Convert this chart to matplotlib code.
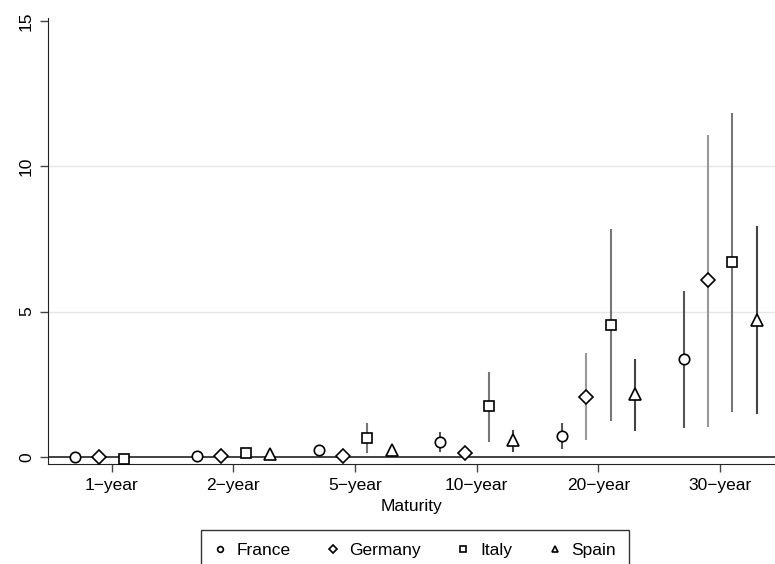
import numpy as np
import matplotlib.pyplot as plt

plt.rcParams['font.family'] = ['Liberation Sans', 'DejaVu Sans']

maturities = ["1\u2212year", "2\u2212year", "5\u2212year", "10\u2212year", "20\u2212year", "30\u2212year"]
countries = ["France", "Germany", "Italy", "Spain"]

# point estimates (nan = not shown)
france = [0.00, 0.03, 0.24, 0.52, 0.71, 3.37]
germany = [0.00, 0.03, 0.03, 0.15, 2.07, 6.07]
italy = [-0.08, 0.13, 0.66, 1.75, 4.53, 6.69]
spain = [np.nan, 0.09, 0.23, 0.58, 2.16, 4.71]

# confidence bands
france_lo = [0.00, 0.03, 0.24, 0.17, 0.27, 1.00]
france_hi = [0.00, 0.03, 0.24, 0.86, 1.17, 5.72]
germany_lo = [0.00, 0.03, 0.03, 0.10, 0.58, 1.03]
germany_hi = [0.00, 0.03, 0.03, 0.20, 3.56, 11.09]
italy_lo = [-0.08, 0.13, 0.15, 0.52, 1.23, 1.53]
italy_hi = [-0.08, 0.13, 1.15, 2.93, 7.84, 11.84]
spain_lo = [np.nan, 0.09, 0.20, 0.17, 0.90, 1.46]
spain_hi = [np.nan, 0.09, 0.26, 0.92, 3.36, 7.93]

est = [france, germany, italy, spain]
lo = [france_lo, germany_lo, italy_lo, spain_lo]
hi = [france_hi, germany_hi, italy_hi, spain_hi]
markers = ['o', 'D', 's', '^']
msizes = [7.5, 7, 7.5, 8]
ci_colors = ['#555555', '#999999', '#777777', '#444444']
offsets = [-0.3, -0.1, 0.1, 0.3]

fig = plt.figure(figsize=(7.75, 5.64), dpi=100)
ax = fig.add_axes([0.0619, 0.177, 0.938, 0.791])

x = np.arange(1, len(maturities) + 1)
for i in range(4):
    xi = x + offsets[i]
    ax.vlines(xi, lo[i], hi[i], color=ci_colors[i], lw=1.5, zorder=2)
    ax.plot(xi, est[i], linestyle='none', marker=markers[i], ms=msizes[i],
            mfc='white', mec='black', mew=1.2, zorder=3, label=countries[i])

ax.axhline(0, color='#222222', lw=1.2, zorder=1)
for yv in [5, 10]:
    ax.axhline(yv, color='#e6e6e6', lw=1, zorder=0)

ax.set_xlim(0.477, 6.45)
ax.set_ylim(-0.25, 15.1)
ax.set_xticks(x)
ax.set_xticklabels(maturities, fontsize=12.5)
ax.set_yticks([0, 5, 10, 15])
ax.set_yticklabels(['0', '5', '10', '15'], fontsize=12.5, rotation=90, va='center')
ax.tick_params(direction='out', length=6, width=1, color='#444444', pad=4)
ax.set_xlabel("Maturity", fontsize=12.5, labelpad=4)

ax.spines['top'].set_visible(False)
ax.spines['right'].set_visible(False)
ax.spines['left'].set_color('#222222')
ax.spines['bottom'].set_color('#222222')

handles, labels = ax.get_legend_handles_labels()
leg = fig.legend(handles, labels, loc='lower center', ncol=4, fontsize=12.5,
                 bbox_to_anchor=(0.535, -0.012), frameon=True, fancybox=False,
                 markerscale=0.55, handlelength=0.7, handletextpad=0.6,
                 columnspacing=2.1, borderpad=0.75, borderaxespad=0)
leg.get_frame().set_edgecolor('black')
leg.get_frame().set_linewidth(1)

fig.savefig("out.png", dpi=100)
